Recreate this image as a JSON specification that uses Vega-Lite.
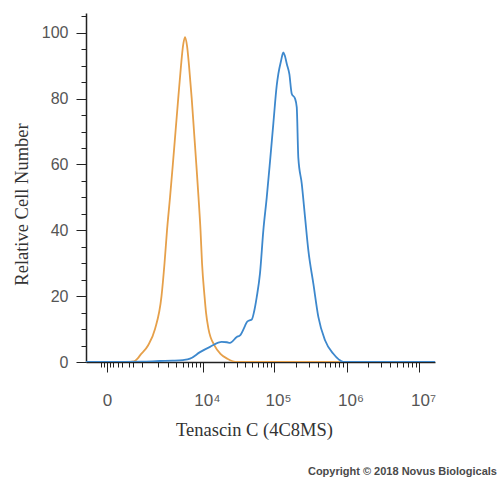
{
  "$schema": "https://vega.github.io/schema/vega-lite/v6.json",
  "autosize": "none",
  "width": 349,
  "height": 349,
  "padding": {"left": 86, "top": 13, "right": 64, "bottom": 117},
  "background": "white",
  "config": {"view": {"stroke": null}},
  "title": {
    "text": "Copyright © 2018 Novus Biologicals",
    "orient": "bottom",
    "anchor": "end",
    "frame": "group",
    "dx": 62,
    "offset": 27,
    "font": "Liberation Sans",
    "fontSize": 11,
    "fontWeight": "bold",
    "color": "#4a4a4a"
  },
  "datasets": {
    "hist": [
      {"s": "Control", "x": -474, "y": 0},
      {"s": "Control", "x": -200, "y": 0},
      {"s": "Control", "x": 0, "y": 0},
      {"s": "Control", "x": 400, "y": 0},
      {"s": "Control", "x": 678, "y": 0.2},
      {"s": "Control", "x": 816, "y": 1},
      {"s": "Control", "x": 926, "y": 2},
      {"s": "Control", "x": 1338, "y": 5},
      {"s": "Control", "x": 1795, "y": 10},
      {"s": "Control", "x": 2320, "y": 20},
      {"s": "Control", "x": 2603, "y": 30},
      {"s": "Control", "x": 2859, "y": 40},
      {"s": "Control", "x": 3195, "y": 50},
      {"s": "Control", "x": 3539, "y": 60},
      {"s": "Control", "x": 3900, "y": 70},
      {"s": "Control", "x": 4292, "y": 80},
      {"s": "Control", "x": 4738, "y": 90},
      {"s": "Control", "x": 5082, "y": 96},
      {"s": "Control", "x": 5447, "y": 98.7},
      {"s": "Control", "x": 5840, "y": 96},
      {"s": "Control", "x": 6252, "y": 90},
      {"s": "Control", "x": 6857, "y": 80},
      {"s": "Control", "x": 7415, "y": 70},
      {"s": "Control", "x": 8015, "y": 60},
      {"s": "Control", "x": 8630, "y": 50},
      {"s": "Control", "x": 9226, "y": 40},
      {"s": "Control", "x": 9705, "y": 30},
      {"s": "Control", "x": 10545, "y": 20},
      {"s": "Control", "x": 11085, "y": 15},
      {"s": "Control", "x": 12040, "y": 10},
      {"s": "Control", "x": 14685, "y": 5},
      {"s": "Control", "x": 17810, "y": 2.5},
      {"s": "Control", "x": 22325, "y": 1},
      {"s": "Control", "x": 30500, "y": 0},
      {"s": "Control", "x": 100000, "y": 0},
      {"s": "Control", "x": 1000000, "y": 0},
      {"s": "Control", "x": 16600000, "y": 0},
      {"s": "Tenascin C", "x": -474, "y": 0},
      {"s": "Tenascin C", "x": 0, "y": 0},
      {"s": "Tenascin C", "x": 1000, "y": 0.1},
      {"s": "Tenascin C", "x": 2190, "y": 0.3},
      {"s": "Tenascin C", "x": 3500, "y": 0.4},
      {"s": "Tenascin C", "x": 5080, "y": 0.6},
      {"s": "Tenascin C", "x": 6470, "y": 1.0},
      {"s": "Tenascin C", "x": 9070, "y": 3.0},
      {"s": "Tenascin C", "x": 12650, "y": 4.6},
      {"s": "Tenascin C", "x": 18570, "y": 6.1},
      {"s": "Tenascin C", "x": 22000, "y": 6.0},
      {"s": "Tenascin C", "x": 24320, "y": 5.8},
      {"s": "Tenascin C", "x": 30200, "y": 7.6},
      {"s": "Tenascin C", "x": 33600, "y": 8.1},
      {"s": "Tenascin C", "x": 39450, "y": 11.0},
      {"s": "Tenascin C", "x": 41700, "y": 12.1},
      {"s": "Tenascin C", "x": 45000, "y": 12.6},
      {"s": "Tenascin C", "x": 48950, "y": 12.9},
      {"s": "Tenascin C", "x": 53000, "y": 15.5},
      {"s": "Tenascin C", "x": 57400, "y": 19.7},
      {"s": "Tenascin C", "x": 63800, "y": 27},
      {"s": "Tenascin C", "x": 70950, "y": 40},
      {"s": "Tenascin C", "x": 79100, "y": 50},
      {"s": "Tenascin C", "x": 87900, "y": 61},
      {"s": "Tenascin C", "x": 97600, "y": 72.4},
      {"s": "Tenascin C", "x": 108800, "y": 84},
      {"s": "Tenascin C", "x": 114500, "y": 87.5},
      {"s": "Tenascin C", "x": 124800, "y": 91.5},
      {"s": "Tenascin C", "x": 134200, "y": 94},
      {"s": "Tenascin C", "x": 141000, "y": 93},
      {"s": "Tenascin C", "x": 149700, "y": 90.6},
      {"s": "Tenascin C", "x": 162500, "y": 87.5},
      {"s": "Tenascin C", "x": 175400, "y": 81.5},
      {"s": "Tenascin C", "x": 194900, "y": 80},
      {"s": "Tenascin C", "x": 205700, "y": 77.4},
      {"s": "Tenascin C", "x": 216400, "y": 62},
      {"s": "Tenascin C", "x": 241200, "y": 54.2},
      {"s": "Tenascin C", "x": 267800, "y": 44},
      {"s": "Tenascin C", "x": 297600, "y": 33.9},
      {"s": "Tenascin C", "x": 348900, "y": 23.8},
      {"s": "Tenascin C", "x": 408800, "y": 13.7},
      {"s": "Tenascin C", "x": 505500, "y": 6.6},
      {"s": "Tenascin C", "x": 658500, "y": 2.5},
      {"s": "Tenascin C", "x": 780000, "y": 0.8},
      {"s": "Tenascin C", "x": 905000, "y": 0},
      {"s": "Tenascin C", "x": 10000000, "y": 0},
      {"s": "Tenascin C", "x": 16600000, "y": 0}
    ]
  },
  "data": {"name": "hist"},
  "mark": {"type": "line", "strokeWidth": 1.8, "interpolate": "monotone", "clip": true},
  "encoding": {
    "x": {
      "field": "x",
      "type": "quantitative",
      "scale": {"type": "symlog", "constant": 500, "domain": [-474, 16600000], "nice": false, "zero": false},
      "axis": {
        "title": "Tenascin C (4C8MS)",
        "titleFont": "Liberation Serif",
        "titleFontSize": 18.5,
        "titleFontWeight": "normal",
        "titleColor": "#333333",
        "titleX": 168,
        "titleY": 67,
        "titleAlign": "center",
        "titleBaseline": "middle",
        "values": [-100, -50, 0, 50, 100, 200, 300, 500, 650, 1000, 2000, 3000, 4000, 5000, 6000, 7000, 8000, 9000, 10000, 20000, 30000, 40000, 50000, 60000, 70000, 80000, 90000, 100000, 200000, 300000, 400000, 500000, 600000, 700000, 800000, 900000, 1000000, 2000000, 3000000, 4000000, 5000000, 6000000, 7000000, 8000000, 9000000, 10000000],
        "labelExpr": "datum.value === 0 ? '0' : datum.value === 10000 ? '10⁴' : datum.value === 100000 ? '10⁵' : datum.value === 1000000 ? '10⁶' : datum.value === 10000000 ? '10⁷' : ''",
        "tickSize": {"condition": {"test": "indexof([0, 10000, 100000, 1000000, 10000000], datum.value) >= 0", "value": 10}, "value": 5},
        "labelOffset": {"condition": {"test": "datum.value === 0", "value": 0}, "value": 4},
        "labelFont": "Liberation Sans",
        "labelFontSize": 17,
        "labelColor": "#555555",
        "labelPadding": 20,
        "labelOverlap": false,
        "labelFlush": false,
        "labelBound": false,
        "domainColor": "#222222",
        "domainWidth": 1.5,
        "tickColor": "#222222",
        "tickWidth": 1,
        "grid": false
      }
    },
    "y": {
      "field": "y",
      "type": "quantitative",
      "scale": {"domain": [0, 106], "nice": false},
      "axis": {
        "title": "Relative Cell Number",
        "titleFont": "Liberation Serif",
        "titleFontSize": 18.5,
        "titleFontWeight": "normal",
        "titleColor": "#333333",
        "titleX": -65,
        "titleY": 191,
        "titleAlign": "center",
        "titleBaseline": "middle",
        "titleAngle": -90,
        "values": [0, 5, 10, 15, 20, 25, 30, 35, 40, 45, 50, 55, 60, 65, 70, 75, 80, 85, 90, 95, 100, 105],
        "labelExpr": "datum.value % 20 === 0 ? datum.label : ''",
        "tickSize": {"condition": {"test": "datum.value % 20 === 0", "value": 10}, "value": 5},
        "labelFont": "Liberation Sans",
        "labelFontSize": 16,
        "labelColor": "#555555",
        "labelPadding": 8,
        "labelOverlap": false,
        "domainColor": "#222222",
        "domainWidth": 1.5,
        "tickColor": "#222222",
        "tickWidth": 1,
        "grid": false
      }
    },
    "color": {
      "field": "s",
      "type": "nominal",
      "scale": {"domain": ["Control", "Tenascin C"], "range": ["#e6a04a", "#3d88cd"]},
      "legend": null
    }
  }
}
